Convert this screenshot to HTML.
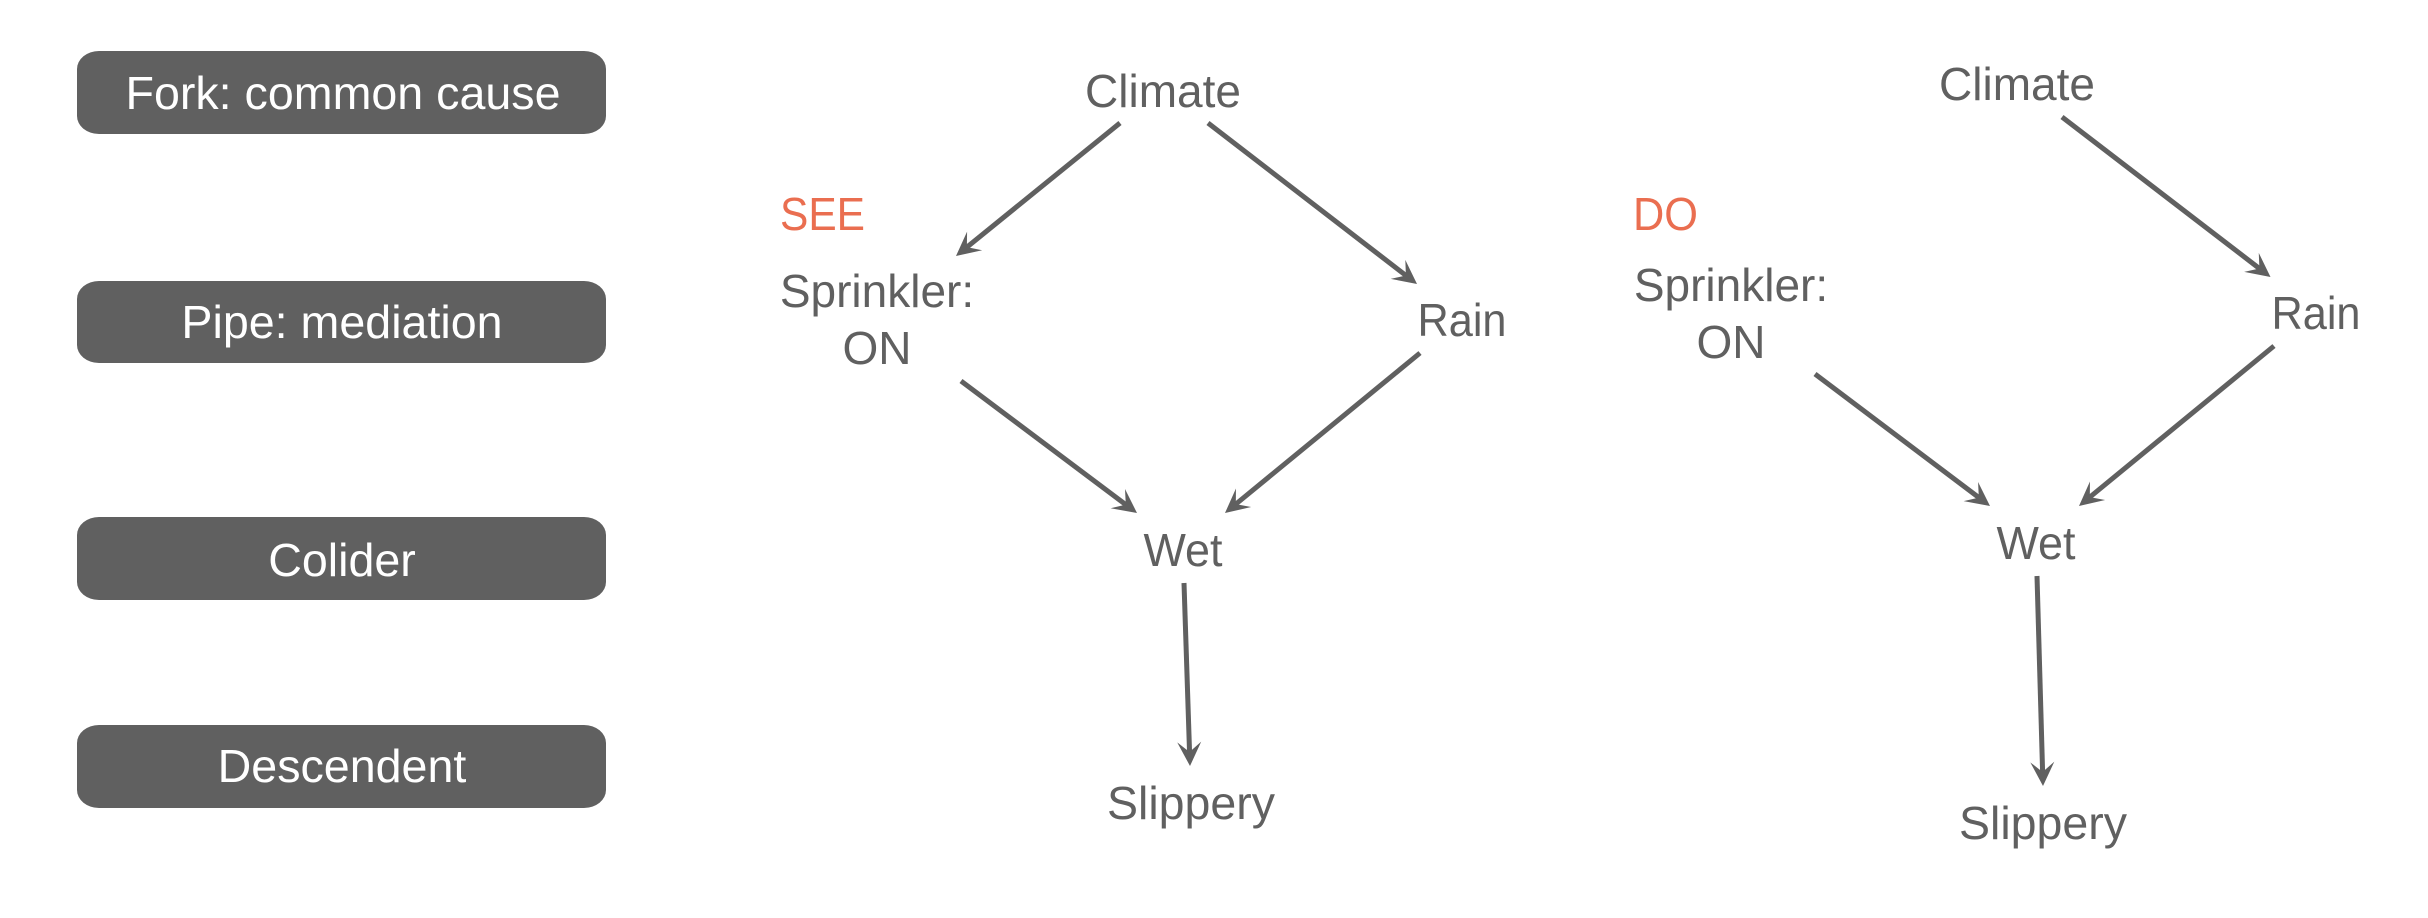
<!DOCTYPE html>
<html lang="en">
<head>
<meta charset="utf-8">
<title>Causal graph patterns: see versus do</title>
<style>
  html, body { margin: 0; padding: 0; background: #ffffff; }
  svg { display: block; }
  text { font-family: "Liberation Sans", Arial, sans-serif; font-size: 46px; }
  .node { fill: #606060; text-anchor: middle; }
  .tag { fill: #ffffff; text-anchor: middle; font-size: 46.6px; }
  .mode { fill: #ea6e50; }
  .pill { fill: #606060; }
</style>
</head>
<body>
<svg id="diagram" xmlns="http://www.w3.org/2000/svg" width="2428" height="918" viewBox="0 0 2428 918">
  <g>
    <g>
      <rect class="pill" x="77" y="51" width="529" height="83" rx="22" ry="18"/>
      <text class="tag" x="343" y="109">Fork: common cause</text>
    </g>
    <g>
      <rect class="pill" x="77" y="281" width="529" height="82" rx="22" ry="18"/>
      <text class="tag" x="342" y="338">Pipe: mediation</text>
    </g>
    <g>
      <rect class="pill" x="77" y="517" width="529" height="83" rx="22" ry="18"/>
      <text class="tag" x="342" y="576">Colider</text>
    </g>
    <g>
      <rect class="pill" x="77" y="725" width="529" height="83" rx="22" ry="18"/>
      <text class="tag" x="342" y="782">Descendent</text>
    </g>
  </g>

  <g id="see-graph">
    <text class="mode" x="780" y="230" textLength="85" lengthAdjust="spacingAndGlyphs">SEE</text>
    <text class="node" x="1163" y="107">Climate</text>
    <text class="node" x="877" y="307">Sprinkler:</text>
    <text class="node" x="877" y="364">ON</text>
    <text class="node" x="1462" y="336" textLength="89" lengthAdjust="spacingAndGlyphs">Rain</text>
    <text class="node" x="1183" y="566" textLength="79" lengthAdjust="spacingAndGlyphs">Wet</text>
    <text class="node" x="1191" y="819" textLength="168" lengthAdjust="spacingAndGlyphs">Slippery</text>
  </g>

  <g id="do-graph">
    <text class="mode" x="1633" y="230" textLength="65" lengthAdjust="spacingAndGlyphs">DO</text>
    <text class="node" x="2017" y="100">Climate</text>
    <text class="node" x="1731" y="301">Sprinkler:</text>
    <text class="node" x="1731" y="358">ON</text>
    <text class="node" x="2316" y="329" textLength="89" lengthAdjust="spacingAndGlyphs">Rain</text>
    <text class="node" x="2036" y="559" textLength="79" lengthAdjust="spacingAndGlyphs">Wet</text>
    <text class="node" x="2043" y="839" textLength="168" lengthAdjust="spacingAndGlyphs">Slippery</text>
  </g>

  <g id="arrows"></g>
</svg>

<script>
const edgeNames = [
  'see-climate-to-sprinkler', 'see-climate-to-rain', 'see-sprinkler-to-wet', 'see-rain-to-wet', 'see-wet-to-slippery',
  'do-climate-to-rain', 'do-sprinkler-to-wet', 'do-rain-to-wet', 'do-wet-to-slippery'
];
const edgeStarts = [
  [1120, 123], [1208, 123], [961, 381], [1420, 353], [1184, 583],
  [2062, 117], [1815, 374], [2274, 346], [2037, 576]
];
const edgeTips = [
  [956, 256], [1417, 284], [1137, 513], [1225, 513], [1190, 766],
  [2270.5, 277], [1990, 506], [2079, 506], [2043, 786]
];

const SVG_NS = 'http://www.w3.org/2000/svg';
const EDGE_COLOR = '#606060';
const HEAD_LENGTH = 24;
const HEAD_NOTCH = 14;
const HEAD_HALF_WIDTH = 12;
const arrowLayer = document.getElementById('arrows');

edgeNames.forEach(function (edgeName, i) {
  const start = edgeStarts[i];
  const tip = edgeTips[i];
  const dx = tip[0] - start[0];
  const dy = tip[1] - start[1];
  const len = Math.hypot(dx, dy);
  const ux = dx / len;
  const uy = dy / len;
  const nx = -uy;
  const ny = ux;
  const notchX = tip[0] - ux * HEAD_NOTCH;
  const notchY = tip[1] - uy * HEAD_NOTCH;
  const baseX = tip[0] - ux * HEAD_LENGTH;
  const baseY = tip[1] - uy * HEAD_LENGTH;

  const group = document.createElementNS(SVG_NS, 'g');
  
  

  const shaft = document.createElementNS(SVG_NS, 'line');
  
  
  shaft.setAttribute('x1', start[0]);
  shaft.setAttribute('y1', start[1]);
  shaft.setAttribute('x2', notchX + ux);
  shaft.setAttribute('y2', notchY + uy);
  shaft.setAttribute('stroke', EDGE_COLOR);
  shaft.setAttribute('stroke-width', '5');
  group.appendChild(shaft);

  const head = document.createElementNS(SVG_NS, 'polygon');
  
  
  head.setAttribute('points', [
    tip[0] + ',' + tip[1],
    (baseX + nx * HEAD_HALF_WIDTH) + ',' + (baseY + ny * HEAD_HALF_WIDTH),
    notchX + ',' + notchY,
    (baseX - nx * HEAD_HALF_WIDTH) + ',' + (baseY - ny * HEAD_HALF_WIDTH)
  ].join(' '));
  head.setAttribute('fill', EDGE_COLOR);
  group.appendChild(head);

  arrowLayer.appendChild(group);
});
</script>
</body>
</html>
